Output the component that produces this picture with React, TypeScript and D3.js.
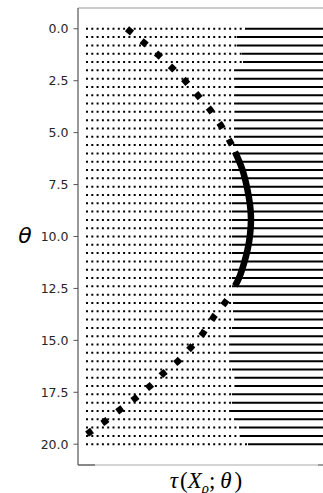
import * as d3 from "d3"

// horizontal profile rows: theta value and where the dotted part turns solid
const rowTheta = [
  0, 0.4, 0.8, 1.2, 1.6, 2, 2.4, 2.8, 3.2, 3.6, 4, 4.4, 4.8, 5.2, 5.6, 6,
  6.4, 6.8, 7.2, 7.6, 8, 8.4, 8.8, 9.2, 9.6, 10, 10.4, 10.8, 11.2, 11.6, 12, 12.4, 12.8,
  13.2, 13.6, 14, 14.4, 14.8, 15.2, 15.6, 16, 16.4, 16.8, 17.2, 17.6, 18, 18.4, 18.8, 19.2, 19.6, 20,
]
const rowSplit = [
  3.38, 3.18, 3.18, 3.28, 3.3, 3.12, 3.12, 3.14, 3.12, 3.12, 3.14, 3.12, 3.12, 3.12, 3.1, 3.1,
  3.08, 3.08, 3.08, 3.08, 3.08, 3.08, 3.08, 3.08, 3.08, 3.08, 3.08, 3.08, 3.08, 3.08, 3.08, 3.08, 3.08,
  3.1, 3.1, 3.12, 3.08, 3.06, 3.06, 3.06, 3.06, 3.08, 3.16, 3.16, 3.08, 3.08, 3.06, 3.12, 3.22, 3.24, 3.4,
]
const rowStart = 0.16
const rowEnd = 4.9

// thick curve: upper dotted branch, solid arc, lower dotted branch
const upperTheta = [0, 0.67, 1.25, 1.875, 2.5, 3.22, 3.89, 4.66, 5.43, 5.95]
const upperTau = [0.98, 1.32, 1.6, 1.88, 2.14, 2.4, 2.64, 2.86, 3.04, 3.16]
const arcTheta = [5.93, 6.8, 7.76, 8.48, 9.16, 9.93, 10.65, 11.37, 12.0, 12.38]
const arcTau = [3.14, 3.29, 3.39, 3.44, 3.46, 3.44, 3.39, 3.31, 3.22, 3.14]
const lowerTheta = [13.06, 13.85, 14.66, 15.34, 16.0, 16.6, 17.2, 17.8, 18.3, 18.9, 19.51]
const lowerTau = [2.98, 2.72, 2.5, 2.26, 2.0, 1.7, 1.44, 1.14, 0.86, 0.54, 0.18]

const yTicks = [0, 2.5, 5, 7.5, 10, 12.5, 15, 17.5, 20]

const W = 323
const H = 493
const left = 78
const top = 8
const bottom = 465

export default function App() {
  const x = d3.scaleLinear().domain([0, 4.9]).range([left, W])
  const y = d3.scaleLinear().domain([-1, 21]).range([top, bottom])

  const line = d3
    .line<[number, number]>()
    .x((d) => x(d[1]))
    .y((d) => y(d[0]))

  const arcLine = d3
    .line<[number, number]>()
    .x((d) => x(d[1]))
    .y((d) => y(d[0]))
    .curve(d3.curveNatural)

  const upper = upperTheta.map((t, i) => [t, upperTau[i]] as [number, number])
  const arc = arcTheta.map((t, i) => [t, arcTau[i]] as [number, number])
  const lower = lowerTheta.map((t, i) => [t, lowerTau[i]] as [number, number])

  return (
    <div style={{ position: "fixed", left: 0, top: 0 }}>
      <svg width={W} height={H} style={{ display: "block", background: "#fff" }}>
        <defs>
          <clipPath id="plot">
            <rect x={left} y={top} width={W - left} height={bottom - top} />
          </clipPath>
        </defs>

        <g clipPath="url(#plot)">
          {rowTheta.map((t, i) => (
            <g key={i}>
              <line
                x1={x(rowStart)}
                x2={x(rowSplit[i])}
                y1={y(t)}
                y2={y(t)}
                stroke="#000"
                strokeWidth={2}
                strokeDasharray="2 3.3"
              />
              <line x1={x(rowSplit[i])} x2={x(rowEnd)} y1={y(t)} y2={y(t)} stroke="#000" strokeWidth={2} />
            </g>
          ))}

          <path d={line(upper) ?? ""} fill="none" stroke="#000" strokeWidth={6.5} strokeDasharray="6.5 12.4" />
          <path d={arcLine(arc) ?? ""} fill="none" stroke="#000" strokeWidth={6.5} />
          <path d={line(lower) ?? ""} fill="none" stroke="#000" strokeWidth={6.5} strokeDasharray="6.5 12.4" />
        </g>

        {/* spines */}
        <line x1={left} x2={W} y1={top} y2={top} stroke="#999" strokeWidth={1} />
        <line x1={left} x2={W} y1={bottom} y2={bottom} stroke="#aaa" strokeWidth={1} />
        <line x1={left} x2={95} y1={bottom} y2={bottom} stroke="#555" strokeWidth={1.2} />
        <line x1={318} x2={W} y1={bottom} y2={bottom} stroke="#777" strokeWidth={1.2} />
        <line x1={left} x2={left} y1={top} y2={bottom} stroke="#555" strokeWidth={1.2} />

        {/* y ticks */}
        {yTicks.map((t) => (
          <g key={t} transform={`translate(0,${y(t)})`}>
            <line x1={left - 4.5} x2={left} stroke="#555" strokeWidth={1} />
            <text
              x={left - 9.5}
              dy="0.36em"
              textAnchor="end"
              fontFamily="DejaVu Sans"
              fontSize={12.5}
              fill="#262626"
            >
              {t.toFixed(1)}
            </text>
          </g>
        ))}

        <text x={25} y={243} textAnchor="middle" fontFamily="DejaVu Sans" fontStyle="italic" fontSize={22} fill="#000">
          θ
        </text>

        <text x={206} y={488} textAnchor="middle" fontFamily="Liberation Serif" fontSize={23} fill="#000">
          <tspan fontStyle="italic">τ</tspan>
          <tspan dx={2}>(</tspan>
          <tspan fontStyle="italic">X</tspan>
          <tspan fontStyle="italic" fontSize={15} dy={5}>ρ</tspan>
          <tspan dy={-5}>;</tspan>
          <tspan fontStyle="italic" dx={5}>θ</tspan>
          <tspan dx={3}>)</tspan>
        </text>
      </svg>
    </div>
  )
}
